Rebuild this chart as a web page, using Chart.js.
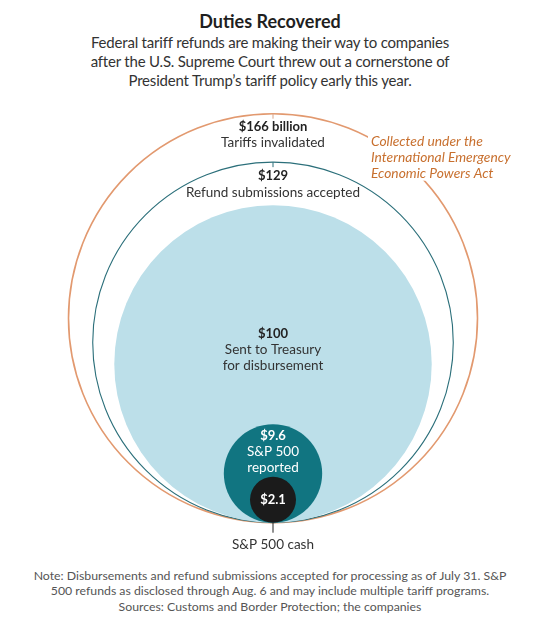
<!DOCTYPE html>
<html>
<head>
<meta charset="utf-8">
<script src="https://cdn.jsdelivr.net/npm/chart.js@4.4.1/dist/chart.umd.min.js"></script>
<style>
  html, body { margin: 0; padding: 0; background: #fff; }
  body { width: 540px; height: 626px; position: relative; overflow: hidden; font-family: Lato, "Noto Sans", sans-serif; }
  #title { position: absolute; top: 10px; left: 0; width: 540px; text-align: center; font-size: 18px; line-height: 22px; font-weight: 700; color: #1f1f1f; }
  #sub { position: absolute; top: 33px; left: 0; width: 540px; text-align: center; font-size: 15px; letter-spacing: -0.2px; line-height: 19px; color: #333; }
  #wrap { position: absolute; top: 100px; left: 0; width: 540px; height: 460px; }
  #note { position: absolute; top: 568px; left: 0; width: 540px; text-align: center; font-size: 12.3px; line-height: 15.3px; color: #555; }
</style>
</head>
<body>
<div id="title">Duties Recovered</div>
<div id="sub">Federal tariff refunds are making their way to companies<br>after the U.S. Supreme Court threw out a cornerstone of<br>President Trump’s tariff policy early this year.</div>
<div id="wrap"><canvas id="chart" width="540" height="460"></canvas></div>
<div id="note">Note: Disbursements and refund submissions accepted for processing as of July 31. S&amp;P<br>500 refunds as disclosed through Aug. 6 and may include multiple tariff programs.<br>Sources: Customs and Border Protection; the companies</div>
<script>
(function(){
    // billions of dollars, largest first (drawn back to front)
    const values = [166, 129, 100, 9.6, 2.1];
    const valueLabels = ['$166 billion', '$129', '$100', '$9.6', '$2.1'];
    const descLabels = [
        ['Tariffs invalidated'],
        ['Refund submissions accepted'],
        ['Sent to Treasury', 'for disbursement'],
        ['S&P 500', 'reported'],
        []
    ];
    const bottomLabel = 'S&P 500 cash';
    const noteLines = ['Collected under the', 'International Emergency', 'Economic Powers Act'];

    const fills   = ['rgba(0,0,0,0)', 'rgba(0,0,0,0)', '#bcdfe9', '#117581', '#1b1b1b'];
    const strokes = ['#e2996f', '#2b6f7a', '#bcdfe9', '#117581', '#1b1b1b'];
    const widths  = [1.6, 1.1, 0, 0, 0];

    const R = Math.sqrt(values[0]);
    const FONT = 'Lato, "Noto Sans", sans-serif';

    // radius in px
    function pxRadius(chart, v){
        const s = chart.scales.y;
        return Math.abs(s.getPixelForValue(0) - s.getPixelForValue(Math.sqrt(v)));
    }

    const labelPlugin = {
        id: 'circleLabels',
        afterDatasetsDraw(chart){
            const ctx = chart.ctx;
            const xs = chart.scales.x, ys = chart.scales.y;
            const cx = xs.getPixelForValue(0);
            const base = ys.getPixelForValue(0);
            const top = values.map(v => base - 2 * pxRadius(chart, v));
            const mid = values.map(v => base - pxRadius(chart, v));

            ctx.save();
            ctx.lineWidth = 1;
            // small ticks
            ctx.strokeStyle = '#d9a488';
            ctx.beginPath(); ctx.moveTo(cx, top[0]); ctx.lineTo(cx, top[0] + 5); ctx.stroke();
            ctx.strokeStyle = '#2b6f7a';
            ctx.beginPath(); ctx.moveTo(cx, top[1]); ctx.lineTo(cx, top[1] + 5); ctx.stroke();
            ctx.strokeStyle = '#222';
            ctx.beginPath(); ctx.moveTo(cx, base); ctx.lineTo(cx, base + 10); ctx.stroke();

            ctx.textAlign = 'center';
            ctx.textBaseline = 'middle';
            const put = (txt, y, bold, color, size) => {
                ctx.font = (bold ? '700 ' : '400 ') + size + 'px ' + FONT;
                ctx.fillStyle = color;
                ctx.fillText(txt, cx, y);
            };
            // label starting y for each circle
            const starts = [top[0] + 13, top[1] + 14, mid[2] - 30, top[3] + 11, mid[4]];
            values.forEach((v, i) => {
                const light = i >= 3;
                put(valueLabels[i], starts[i], true, light ? '#fff' : '#222', 13);
                descLabels[i].forEach((t, j) => put(t, starts[i] + 16 * (j + 1), false, light ? '#fff' : '#333', 13.5));
            });
            put(bottomLabel, base + 21.5, false, '#333', 13.5);

            // annotation, knocked out of the outer ring
            ctx.fillStyle = '#fff';
            ctx.fillRect(368, top[0] + 18, 150, 49);
            ctx.textAlign = 'left';
            ctx.font = 'italic 400 13.8px ' + FONT;
            ctx.fillStyle = '#c8702f';
            noteLines.forEach((t, j) => ctx.fillText(t, 371, top[0] + 27.5 + 16.2 * j));
            ctx.restore();
        }
    };

    document.addEventListener('DOMContentLoaded', () => {
        const el = document.getElementById('chart');
        new Chart(el, {
            type: 'scatter',
            data: {
                datasets: [{
                    data: values.map(v => ({ x: 0, y: Math.sqrt(v) })),
                    pointRadius: (c) => pxRadius(c.chart, values[c.dataIndex]),
                    pointHoverRadius: (c) => pxRadius(c.chart, values[c.dataIndex]),
                    pointBackgroundColor: fills,
                    pointBorderColor: strokes,
                    pointBorderWidth: widths,
                    clip: false
                }]
            },
            options: {
                responsive: false,
                animation: false,
                events: [],
                layout: { padding: { left: 68.5, right: 62.5, top: 13.7, bottom: 37.3 } },
                scales: {
                    x: { type: 'linear', min: -R, max: R, display: false },
                    y: { type: 'linear', min: 0, max: 2 * R, display: false }
                },
                plugins: { legend: { display: false }, tooltip: { enabled: false } }
            },
            plugins: [labelPlugin]
        });
    });
})();
</script>
</body>
</html>
